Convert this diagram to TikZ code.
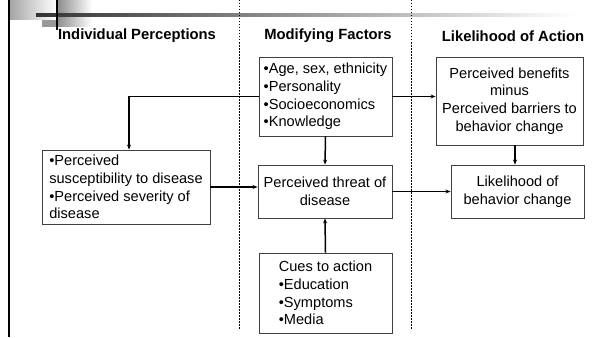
\documentclass[tikz,border=0pt]{standalone}
\usepackage{fontspec}
\setmainfont{Liberation Sans}
\usetikzlibrary{arrows.meta,positioning}

\begin{document}
\begin{tikzpicture}[
    x=1pt, y=-1pt,
    header/.style={
        font=\fontsize{14.8}{17}\selectfont\bfseries,
        inner sep=0pt
        },
    box/.style={
        draw=black!75,
        line width=0.9pt,
        font=\fontsize{14.6}{17.6}\selectfont,
        inner sep=2pt
        },
    leftbox/.style={
        box,
        align=left
        },
    midbox/.style={
        box,
        align=center
        },
    link/.style={
        draw=black,
        line width=1.5pt,
        -{Stealth[length=5pt,width=4pt]}
        },
    divider/.style={
        draw=black,
        line width=0.6pt,
        dash pattern=on 1.5pt off 1.5pt
        }
  ]
  \useasboundingbox (0,0) rectangle (593,337);
  % Decoration
  \shade[left color=black!35, right color=white] (10,0) rectangle (56,20);
  \shade[left color=black!45, right color=white] (57,0) rectangle (92,27);
  \fill[black!40] (42,20) rectangle (57,27);
  \shade[left color=black!80, right color=white] (36,14) rectangle (575,16.5);
  \draw[black, line width=2pt] (57,0) -- (57,30);
  \draw[black, line width=2.5pt] (9,0) -- (9,337);
  % Columns
  \draw[divider] (239,0) -- (239,329);
  \draw[divider] (411,0) -- (411,329);
  \node[header] (hindiv) at (137,36) {Individual Perceptions};
  \node[header] (hmod) at (328,36) {Modifying Factors};
  \node[header] (hlike) at (513,36) {Likelihood of Action};
  % Boxes
  \node[leftbox, minimum width=133pt, minimum height=79pt] (factors) at (325.5,96.5)
    {•Age, sex, ethnicity\\•Personality\\•Socioeconomics\\•Knowledge};
  \node[midbox, minimum width=147pt, minimum height=88pt] (benefits) at (509.5,101)
    {Perceived benefits\\minus\\Perceived barriers to\\behavior change};
  \node[leftbox, minimum width=168pt, minimum height=74pt] (perceptions) at (126,187)
    {•Perceived\\susceptibility to disease\\•Perceived severity of\\disease};
  \node[midbox, minimum width=134pt, minimum height=53pt] (threat) at (325,191.5)
    {Perceived threat of\\disease};
  \node[midbox, minimum width=133pt, minimum height=53pt] (likelihood) at (517.5,191.5)
    {Likelihood of\\behavior change};
  \node[leftbox, minimum width=133pt, minimum height=80pt] (cues) at (325.5,293)
    {Cues to action\\•Education\\•Symptoms\\•Media};
  % Arrows
  \draw[link] (factors.west) -| (perceptions.north -| 129,0);
  \draw[link] (factors.east) -- (factors.east -| benefits.west);
  \draw[link] (factors.south) -- (threat.north);
  \draw[link] (benefits.south -| 515,0) -- (likelihood.north -| 515,0);
  \draw[link] (perceptions.east) -- (perceptions.east -| threat.west);
  \draw[link] (threat.east) -- (threat.east -| likelihood.west);
  \draw[link] (cues.north) -- (threat.south);
\end{tikzpicture}
\end{document}
